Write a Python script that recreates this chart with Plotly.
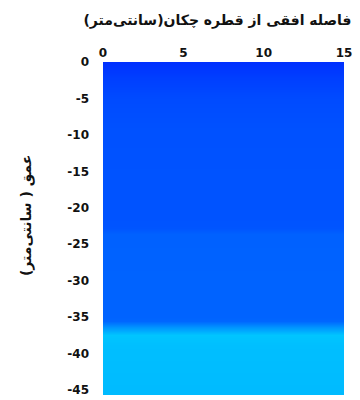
import plotly.graph_objects as go

# Horizontal distance from the dripper (cm)
distance_cm = [0, 15]

# Depth profile (cm, negative downward) and soil water content at each depth
depth_cm = [0, -2, -5, -9, -15, -21, -22.8, -23.6, -30, -35, -35.6, -36.4, -37.4, -39, -45.7]
water_content = [0.086, 0.093, 0.099, 0.102, 0.103, 0.103, 0.104, 0.110,
                 0.111, 0.111, 0.113, 0.135, 0.159, 0.156, 0.154]

x_ticks = [0, 5, 10, 15]
y_ticks = [0, -5, -10, -15, -20, -25, -30, -35, -40, -45]

title_text = "فاصله افقی از قطره چکان(سانتی\u200cمتر)"
y_title_text = "عمق ( سانتی\u200cمتر)"

# MATLAB-style jet colour map
jet = [
    [0.0, "#000080"],
    [0.125, "#0000ff"],
    [0.375, "#00ffff"],
    [0.625, "#ffff00"],
    [0.875, "#ff0000"],
    [1.0, "#800000"],
]

z = [[v for _ in distance_cm] for v in water_content]

fig = go.Figure(
    go.Heatmap(
        x=distance_cm,
        y=depth_cm,
        z=z,
        colorscale=jet,
        zmin=0.0,
        zmax=0.5,
        zsmooth="best",
        showscale=False,
        hoverinfo="skip",
    )
)

tick_font = dict(family="DejaVu Sans", size=12, color="#111111", weight="bold")

fig.update_layout(
    width=360,
    height=400,
    margin=dict(l=103, r=16, t=62, b=3),
    paper_bgcolor="white",
    plot_bgcolor="white",
    title=dict(
        text=title_text,
        xref="paper",
        x=0.475,
        xanchor="center",
        y=0.95,
        yanchor="middle",
        font=dict(family="DejaVu Sans", size=14, color="#111111", weight="bold"),
    ),
    xaxis=dict(
        side="top",
        range=[0, 15],
        tickvals=x_ticks,
        ticktext=[str(v) for v in x_ticks],
        ticks="",
        showgrid=False,
        zeroline=False,
        showline=False,
        tickfont=tick_font,
        ticklabelstandoff=2,
    ),
    yaxis=dict(
        range=[-45.7, 0],
        tickvals=y_ticks,
        ticktext=[str(v) for v in y_ticks],
        ticks="",
        showgrid=False,
        zeroline=False,
        showline=False,
        tickfont=tick_font,
        ticklabelstandoff=13,
    ),
    annotations=[
        dict(
            text=y_title_text,
            xref="paper",
            yref="paper",
            x=-0.32,
            y=0.54,
            xanchor="center",
            yanchor="middle",
            textangle=-90,
            showarrow=False,
            font=dict(family="DejaVu Sans", size=14, color="#111111", weight="bold"),
        )
    ],
)

fig.write_html("out.html")
